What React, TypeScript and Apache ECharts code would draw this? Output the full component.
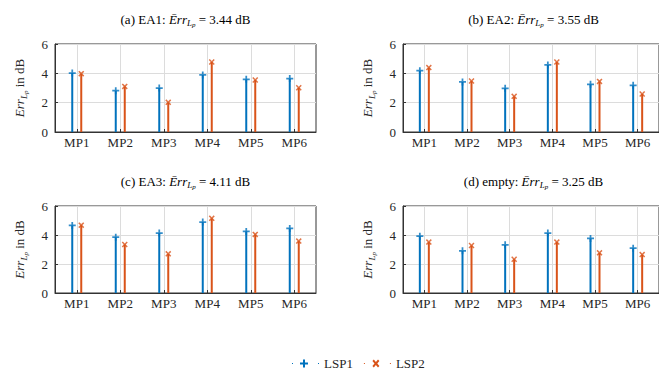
import React, { useEffect, useRef } from 'react';
import * as echarts from 'echarts';

const categories = ['MP1', 'MP2', 'MP3', 'MP4', 'MP5', 'MP6'];
const yTicks = [0, 2, 4, 6];
const panelLabels = ['(a) EA1', '(b) EA2', '(c) EA3', '(d) empty'];
const panelMeans = ['3.44', '3.55', '4.11', '3.25'];

const lsp1A = [4.02, 2.82, 3.0, 3.89, 3.59, 3.64];
const lsp2A = [3.98, 3.11, 2.02, 4.77, 3.55, 3.02];
const lsp1B = [4.18, 3.41, 2.98, 4.57, 3.25, 3.18];
const lsp2B = [4.39, 3.48, 2.43, 4.77, 3.45, 2.59];
const lsp1C = [4.66, 3.85, 4.13, 4.89, 4.25, 4.45];
const lsp2C = [4.68, 3.35, 2.7, 5.15, 4.04, 3.58];
const lsp1D = [3.92, 2.91, 3.32, 4.13, 3.76, 3.09];
const lsp2D = [3.51, 3.28, 2.33, 3.51, 2.77, 2.65];

const LSP1 = [lsp1A, lsp1B, lsp1C, lsp1D];
const LSP2 = [lsp2A, lsp2B, lsp2C, lsp2D];

const BLUE = '#0072BD';
const ORANGE = '#D95319';
const FONT = 'Liberation Serif';
const TEXT = '#262626';

const PLUS = 'path://M3,0H5V3H8V5H5V8H3V5H0V3H3Z';
const CROSS = 'path://M0,1.4L1.4,0L4,2.6L6.6,0L8,1.4L5.4,4L8,6.6L6.6,8L4,5.4L1.4,8L0,6.6L2.6,4Z';
const LEG1 = 'path://M0,3.5h1v1h-1z M8,3h3V0h2v3h3v2h-3v3h-2v-3h-3z M26,3.5h1v1h-1z';
const LEG2 = 'path://M0,3.5h1v1h-1z M8.5,1.4L9.9,0L12,2.6L14.1,0L15.5,1.4L13.4,4L15.5,6.6L14.1,8L12,5.4L9.9,8L8.5,6.6L10.6,4Z M26,3.5h1v1h-1z';

const grids = [
  { left: 55, top: 44, width: 261, height: 88 },
  { left: 403, top: 44, width: 261, height: 88 },
  { left: 55, top: 206, width: 261, height: 87 },
  { left: 403, top: 206, width: 261, height: 87 },
];

const rich = {
  n: { fontFamily: FONT, fontSize: 13, color: TEXT },
  i: { fontFamily: FONT, fontSize: 13, fontStyle: 'italic', color: TEXT },
  s: { fontFamily: FONT, fontSize: 9, fontStyle: 'italic', color: TEXT, padding: [8, 0, 0, 0] },
  ss: { fontFamily: FONT, fontSize: 7, fontStyle: 'italic', color: TEXT, padding: [12, 0, 0, 0] },
};

export default function App() {
  const ref = useRef<HTMLDivElement>(null);
  useEffect(() => {
    document.body.style.margin = '0';
    const chart = echarts.init(ref.current!, null, { renderer: 'svg' });
    const xAxis: any[] = [];
    const yAxis: any[] = [];
    const series: any[] = [];
    const graphic: any[] = [];
    grids.forEach((g, i) => {
      xAxis.push({
        type: 'category',
        gridIndex: i,
        data: categories,
        axisLine: { show: true, lineStyle: { color: '#333', width: 1 } },
        axisTick: { show: true, inside: true, alignWithLabel: true, length: 3, lineStyle: { color: '#333' } },
        axisLabel: { margin: 4, fontFamily: FONT, fontSize: 13, color: TEXT },
        splitLine: { show: true, alignWithLabel: true, lineStyle: { color: '#dcdcdc', width: 1 } },
      });
      yAxis.push({
        type: 'value',
        gridIndex: i,
        min: yTicks[0],
        max: yTicks[yTicks.length - 1],
        interval: 2,
        axisLine: { show: true, lineStyle: { color: '#333', width: 1 } },
        axisTick: { show: true, inside: true, length: 3, lineStyle: { color: '#333' } },
        axisLabel: { margin: 7, fontFamily: FONT, fontSize: 13, color: TEXT },
        splitLine: { show: true, lineStyle: { color: '#dcdcdc', width: 1 } },
        name: '{i|Err}{s|L}{ss|p}{n| in dB}',
        nameLocation: 'middle',
        nameRotate: 90,
        nameGap: 26,
        nameTextStyle: { fontFamily: FONT, rich },
      });
      series.push(
        {
          name: 'LSP1', type: 'bar', xAxisIndex: i, yAxisIndex: i,
          data: LSP1[i], barWidth: 2, barGap: '350%', itemStyle: { color: BLUE },
        },
        {
          name: 'LSP2', type: 'bar', xAxisIndex: i, yAxisIndex: i,
          data: LSP2[i], barWidth: 2, barGap: '350%', itemStyle: { color: ORANGE },
        },
        {
          name: 'LSP1', type: 'scatter', xAxisIndex: i, yAxisIndex: i,
          data: LSP1[i], symbol: PLUS, symbolSize: 7, symbolOffset: [-4.5, 0],
          itemStyle: { color: BLUE }, z: 5,
        },
        {
          name: 'LSP2', type: 'scatter', xAxisIndex: i, yAxisIndex: i,
          data: LSP2[i], symbol: CROSS, symbolSize: 6, symbolOffset: [4.5, 0],
          itemStyle: { color: ORANGE }, z: 5,
        }
      );
      graphic.push({
        type: 'text',
        x: g.left + g.width / 2,
        y: g.top - 25,
        style: {
          text: `{n|${panelLabels[i]}: }{i|Ērr}{s|L}{ss|p}{n| = ${panelMeans[i]} dB}`,
          rich,
          fontFamily: FONT,
          align: 'center',
          verticalAlign: 'middle',
          textAlign: 'center',
          textVerticalAlign: 'middle',
        },
      });
    });
    chart.setOption({
      animation: false,
      backgroundColor: '#ffffff',
      textStyle: { fontFamily: FONT },
      grid: grids.map((g) => ({ ...g, show: true, borderColor: '#333', borderWidth: 1, containLabel: false })),
      xAxis,
      yAxis,
      series,
      graphic,
      legend: {
        left: 287,
        top: 352,
        itemWidth: 27,
        itemHeight: 8,
        itemGap: 11,
        data: [
          { name: 'LSP1', icon: LEG1, itemStyle: { color: BLUE } },
          { name: 'LSP2', icon: LEG2, itemStyle: { color: ORANGE } },
        ],
        textStyle: { fontFamily: FONT, fontSize: 13, color: TEXT },
      },
    });
    return () => chart.dispose();
  }, []);
  return (
    <div
      ref={ref}
      style={{ position: 'absolute', left: 0, top: 0, width: 659, height: 371 }}
    />
  );
}
